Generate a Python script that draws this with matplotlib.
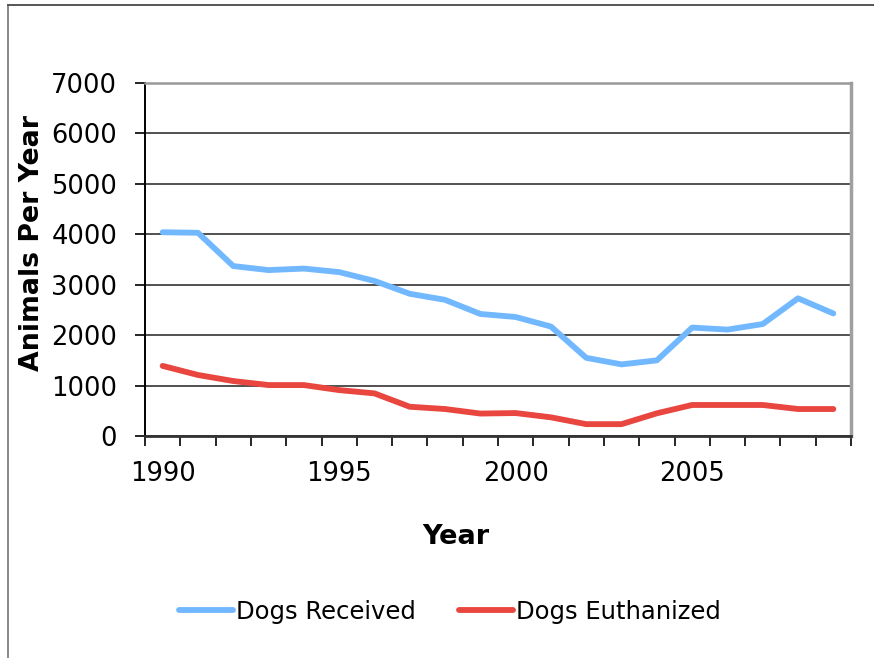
import matplotlib
matplotlib.use("Agg")
import matplotlib.pyplot as plt
from matplotlib.lines import Line2D

years = list(range(1990, 2010))
dogs_received = [4040, 4030, 3370, 3290, 3320, 3250, 3075, 2820, 2700, 2420,
                 2360, 2170, 1550, 1420, 1500, 2150, 2110, 2220, 2730, 2430]
dogs_euthanized = [1390, 1210, 1090, 1010, 1010, 910, 845, 580, 535, 445,
                   455, 370, 235, 235, 450, 615, 615, 615, 535, 535]
year_labels = ["1990", "1995", "2000", "2005"]
y_ticks = [0, 1000, 2000, 3000, 4000, 5000, 6000, 7000]

W, H = 874, 658
plt.rcParams['font.family'] = ['DejaVu Sans']
fig = plt.figure(figsize=(W / 100, H / 100), dpi=100)

# plot area in pixel coordinates
left, right, top, bottom = 145, 851, 83, 436
ax = fig.add_axes([left / W, 1 - bottom / H, (right - left) / W, (bottom - top) / H])

x = list(range(len(years)))
blue = '#72B8FF'
red = '#E8463F'
ax.plot(x, dogs_received, color=blue, lw=4.2, solid_capstyle='round',
        solid_joinstyle='round', zorder=3)
ax.plot(x, dogs_euthanized, color=red, lw=4.2, solid_capstyle='round',
        solid_joinstyle='round', zorder=3)

ax.set_xlim(-0.5, len(years) - 0.5)
ax.set_ylim(0, 7000)

# y axis
ax.set_yticks(y_ticks)
ax.set_yticklabels([str(v) for v in y_ticks], fontsize=18.5)
ax.tick_params(axis='y', direction='out', length=7, width=1.2, pad=13, color='black')
ax.yaxis.grid(True, color='#222222', lw=1.1)
ax.set_axisbelow(True)

# x axis: ticks at category boundaries, labels every fifth category
ax.set_xticks([i - 0.5 for i in range(len(years) + 1)])
ax.set_xticklabels([])
ax.tick_params(axis='x', which='major', direction='out', length=7, width=1.2, color='black')
label_pos = [years.index(int(s)) for s in year_labels]
ax.set_xticks(label_pos, minor=True)
ax.set_xticklabels(year_labels, minor=True, fontsize=18.5)
ax.tick_params(axis='x', which='minor', length=0, pad=18)

ax.spines['left'].set_color('black')
ax.spines['left'].set_linewidth(1.4)
ax.spines['bottom'].set_color('#333333')
ax.spines['bottom'].set_linewidth(2)
ax.spines['right'].set_color('#A0A0A0')
ax.spines['right'].set_linewidth(2.5)
ax.spines['top'].set_color('#999999')
ax.spines['top'].set_linewidth(1.8)

# axis titles
fig.text(32 / W, 1 - 243 / H, 'Animals Per Year', rotation=90, ha='center',
         va='center', fontsize=19.3, fontweight='bold')
fig.text(456 / W, 1 - 537 / H, 'Year', ha='center', va='center',
         fontsize=19.5, fontweight='bold')

# legend
handles = [Line2D([], [], color=blue, lw=4.2, solid_capstyle='round'),
           Line2D([], [], color=red, lw=4.2, solid_capstyle='round')]
fig.legend(handles, ['Dogs Received', 'Dogs Euthanized'], loc='center',
           bbox_to_anchor=(450 / W, 1 - 612 / H), ncol=2, frameon=False,
           fontsize=17.5, handlelength=2.2, handletextpad=0.12, columnspacing=1.8)

# chart frame
fig.add_artist(Line2D([8 / W, 8 / W], [0, 1 - 5 / H], transform=fig.transFigure,
                      color='#888888', lw=1.4))
fig.add_artist(Line2D([8 / W, 1], [1 - 5 / H, 1 - 5 / H], transform=fig.transFigure,
                      color='#555555', lw=1.4))

fig.savefig('out.png', dpi=100)
